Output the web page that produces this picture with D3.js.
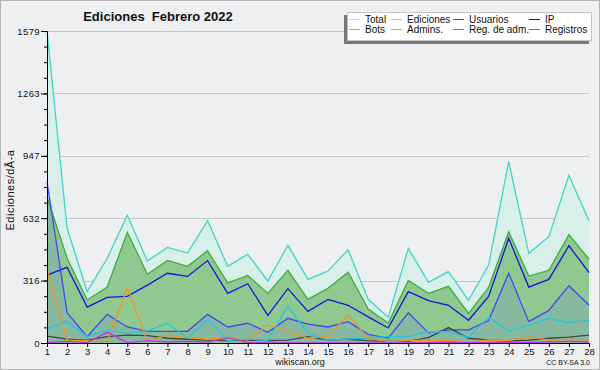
<!DOCTYPE html>
<html>
<head>
<meta charset="utf-8">
<script src="https://cdn.jsdelivr.net/npm/d3@7"></script>
<style>
  body { margin: 0; background: #eeeff0; }
  text { font-family: 'Liberation Sans', sans-serif; fill: #111; }
</style>
</head>
<body>
<div id="chart"></div>
<script>
const days = [1, 2, 3, 4, 5, 6, 7, 8, 9, 10, 11, 12, 13, 14, 15, 16, 17, 18, 19, 20, 21, 22, 23, 24, 25, 26, 27, 28]
const total = [1579, 582, 260, 429, 646, 415, 484, 455, 619, 388, 449, 314, 494, 322, 364, 472, 221, 130, 479, 307, 361, 216, 395, 918, 454, 538, 849, 619]
const ediciones = [740, 429, 218, 283, 560, 348, 418, 388, 467, 304, 342, 251, 368, 221, 277, 358, 172, 101, 317, 251, 287, 150, 282, 563, 339, 368, 548, 424]
const usuarios = [344, 383, 182, 231, 236, 293, 353, 337, 417, 251, 300, 140, 275, 160, 221, 191, 132, 76, 260, 214, 191, 115, 236, 530, 283, 322, 492, 356]
const registros = [816, 153, 32, 145, 81, 59, 59, 59, 145, 81, 100, 54, 125, 95, 81, 108, 44, 25, 153, 51, 66, 66, 114, 353, 108, 165, 290, 191]
const ip = [35, 20, 15, 32, 40, 37, 24, 19, 15, 12, 15, 12, 15, 32, 15, 19, 12, 8, 8, 27, 78, 24, 15, 10, 15, 24, 30, 40]
const bots = [370, 15, 12, 5, 280, 8, 40, 27, 19, 24, 15, 91, 62, 24, 35, 142, 24, 7, 12, 15, 12, 5, 15, 12, 32, 15, 19, 15]
const admins = [74, 110, 32, 66, 49, 61, 100, 24, 120, 12, 20, 12, 187, 49, 15, 20, 27, 32, 32, 57, 57, 29, 130, 62, 91, 125, 103, 115]
const regAdm = [2, 8, 2, 54, 2, 12, 5, 8, 5, 27, 3, 0, 0, 0, 0, 0, 0, 0, 0, 2, 5, 2, 3, 3, 3, 5, 8, 5]
const yTickLabels = [0, 316, 632, 947, 1263, 1579]
const legendNames = ['Total', 'Ediciones', 'Usuarios', 'IP', 'Bots', 'Admins.', 'Reg. de adm.', 'Registros']

const width = 600
const height = 370
const margin = { top: 31, left: 47, bottom: 27, right: 11 }

const svg = d3.select('#chart').append('svg')
  .attr('width', width)
  .attr('height', height)

svg.append('rect')
  .attr('x', 0.5).attr('y', 0.5)
  .attr('width', width - 1).attr('height', height - 1)
  .attr('fill', '#eeeff0')
  .attr('stroke', '#b4b4b4')

const x = d3.scaleLinear().domain([1, 28]).range([margin.left, width - margin.right])
const yMax = d3.max(yTickLabels)
const y = d3.scaleLinear().domain([0, yMax]).range([height - margin.bottom, margin.top])

// grid
svg.append('g').selectAll('line')
  .data(yTickLabels.filter(v => v > 0))
  .join('line')
  .attr('x1', x(1)).attr('x2', x(28))
  .attr('y1', d => Math.round(y(d)) + 0.5).attr('y2', d => Math.round(y(d)) + 0.5)
  .attr('stroke', '#c8c8c8')

const pts = arr => arr.map((v, i) => [days[i], v])
const line = d3.line().x(d => x(d[0])).y(d => y(d[1]))
const area = d3.area().x(d => x(d[0])).y0(y(0)).y1(d => y(d[1]))

const fillArea = (arr, color, opacity) => svg.append('path')
  .datum(pts(arr)).attr('d', area)
  .attr('fill', color).attr('fill-opacity', opacity)
const drawLine = (arr, color) => svg.append('path')
  .datum(pts(arr)).attr('d', line)
  .attr('fill', 'none').attr('stroke', color).attr('stroke-width', 1.3)

fillArea(total, '#d8f0e9', 1)
drawLine(total, '#3dd6c4')
fillArea(ediciones, '#90c990', 1)
drawLine(ediciones, '#3aad3a')
fillArea(registros, '#5a5aff', 0.15)
drawLine(usuarios, '#1414dc')
drawLine(registros, '#4646f2')
drawLine(ip, '#404848')
drawLine(bots, '#f0961e')
drawLine(admins, '#20c8e4')
drawLine(regAdm, '#c832e6')

// axes
const minorTicks = d3.range(0, 21).map(i => yMax * i / 20)
svg.append('g')
  .attr('transform', `translate(${margin.left},0)`)
  .call(d3.axisLeft(y).tickValues(minorTicks).tickSize(3).tickFormat(''))
  .call(g => g.select('.domain').remove())
const yAxis = svg.append('g')
  .attr('transform', `translate(${margin.left},0)`)
  .call(d3.axisLeft(y).tickValues(yTickLabels).tickSize(6).tickPadding(1).tickFormat(d3.format('d')))
yAxis.selectAll('text').style('font-size', '9.5px').style('letter-spacing', '0.4px').attr('fill', '#111')
yAxis.selectAll('line, path').attr('stroke', '#000')

const xAxis = svg.append('g')
  .attr('transform', `translate(0,${height - margin.bottom})`)
  .call(d3.axisBottom(x).tickValues(days).tickSize(4).tickPadding(1).tickFormat(d3.format('d')))
xAxis.selectAll('text').style('font-size', '9.5px').attr('fill', '#111')
xAxis.selectAll('line, path').attr('stroke', '#000')

// texts
svg.append('text')
  .text('Ediciones  Febrero 2022')
  .attr('x', 158).attr('y', 21)
  .attr('text-anchor', 'middle')
  .style('font-size', '13px').style('font-weight', 'bold')
  .style('white-space', 'pre')

svg.append('text')
  .text('Ediciones/dÃ-a')
  .attr('transform', 'translate(14,190) rotate(-90)')
  .attr('text-anchor', 'middle')
  .style('font-size', '11px')
  .style('letter-spacing', '0.5px')

svg.append('text')
  .text('wikiscan.org')
  .attr('x', 300).attr('y', 365)
  .attr('text-anchor', 'middle')
  .style('font-size', '9px')

svg.append('text')
  .text('CC BY-SA 3.0')
  .attr('x', 590).attr('y', 365)
  .attr('text-anchor', 'end')
  .style('font-size', '7px')
  .attr('fill', '#333')

// legend
const legendColors = ['#a8ece4', '#8ad88a', '#4848e0', '#222', '#f4a040', '#48d4e8', '#d040e8', '#6a6ae8']
const lg = svg.append('g')
lg.append('rect')
  .attr('x', 344).attr('y', 15).attr('width', 245).attr('height', 29)
  .attr('fill', '#777')
lg.append('rect')
  .attr('x', 347.5).attr('y', 12.5).attr('width', 244).attr('height', 28)
  .attr('fill', '#fff').attr('stroke', '#c4c4c4')
const colX = [349, 391, 453, 529]
legendNames.forEach((name, i) => {
  const cx = colX[i % 4]
  const cy = i < 4 ? 19 : 29
  lg.append('line')
    .attr('x1', cx).attr('x2', cx + 11)
    .attr('y1', cy + 0.5).attr('y2', cy + 0.5)
    .attr('stroke', legendColors[i])
  lg.append('text')
    .text(name)
    .attr('x', cx + 16).attr('y', cy + 4)
    .style('font-size', '10px')
})
</script>
</body>
</html>
